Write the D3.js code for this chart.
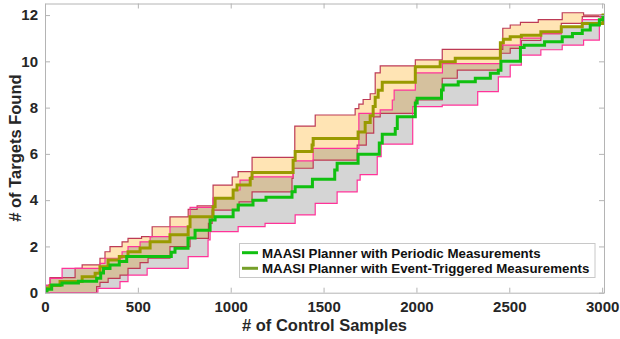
<!DOCTYPE html>
<html>
<head>
<meta charset="utf-8">
<script src="https://cdn.jsdelivr.net/npm/d3@7"></script>
<style>
body { margin: 0; background: #fff; }
svg { display: block; font-family: Arial, "Liberation Sans", Helvetica, sans-serif; }
</style>
</head>
<body>
<svg width="620" height="339"></svg>
<script>
var xTicks = [0, 500, 1000, 1500, 2000, 2500, 3000];
var yTicks = [0, 2, 4, 6, 8, 10, 12];
var seriesNames = ['MAASI Planner with Periodic Measurements', 'MAASI Planner with Event-Triggered Measurements'];

// [control samples, targets found] - step values, each holds until the next sample
var periodicMean = [[0, 0.05], [10, 0.15], [36, 0.33], [92, 0.42], [180, 0.5], [278, 0.62], [300, 0.85], [315, 1.05],
  [350, 1.2], [400, 1.35], [440, 1.56], [680, 1.75], [700, 1.92], [770, 2.36], [808, 2.7], [889, 3.14], [916, 3.28],
  [1013, 3.57], [1040, 3.79], [1120, 4.0], [1190, 4.13], [1330, 4.36], [1347, 4.58], [1440, 4.9], [1560, 5.3],
  [1573, 5.6], [1686, 5.98], [1800, 6.47], [1816, 6.85], [1886, 7.1], [1897, 7.6], [1994, 8.2], [2004, 8.4],
  [2135, 8.76], [2144, 8.98], [2225, 9.12], [2317, 9.27], [2398, 9.48], [2441, 9.62], [2455, 10.0], [2560, 10.6],
  [2580, 10.7], [2690, 10.85], [2785, 11.06], [2840, 11.2], [2893, 11.35], [2936, 11.57], [2985, 11.8], [3005, 11.95]];
var periodicHigh = [[0, 0.33], [27, 0.62], [92, 1.05], [296, 1.27], [323, 1.49], [415, 1.77], [447, 1.99], [512, 2.2],
  [566, 2.42], [673, 2.85], [781, 3.69], [905, 4.1], [1013, 4.44], [1050, 4.87], [1105, 5.01], [1336, 5.7],
  [1444, 6.24], [1690, 7.75], [1805, 7.9], [1870, 8.33], [1880, 8.76], [1994, 9.5], [2140, 9.9], [2455, 10.7],
  [2560, 11.0], [2670, 11.2], [2780, 11.5], [2893, 11.8], [2990, 12.0]];
var periodicLow = [[0, 0], [285, 0.19], [404, 0.48], [447, 0.76], [550, 1.05], [771, 1.56], [878, 2.28], [889, 2.64],
  [1040, 2.86], [1185, 3.0], [1347, 3.36], [1455, 3.86], [1573, 4.36], [1681, 4.87], [1697, 5.1], [1789, 5.88],
  [1810, 6.42], [1980, 8.04], [2139, 8.11], [2330, 8.69], [2441, 9.33], [2505, 9.84], [2565, 10.27], [2670, 10.5],
  [2785, 10.7], [2900, 10.92], [2985, 11.6], [3005, 12.0]];

var eventMean = [[0, 0.1], [10, 0.2], [27, 0.31], [81, 0.48], [200, 0.69], [270, 0.84], [296, 1.12], [340, 1.41],
  [400, 1.56], [447, 1.77], [512, 1.93], [566, 2.2], [673, 2.5], [771, 2.85], [781, 3.28], [905, 3.72], [916, 4.08],
  [1013, 4.44], [1034, 4.65], [1105, 4.94], [1115, 5.2], [1336, 5.73], [1347, 6.1], [1438, 6.38], [1444, 6.67],
  [1686, 6.95], [1724, 7.36], [1751, 7.65], [1767, 8.05], [1778, 8.45], [1794, 8.75], [1816, 9.1], [1994, 9.77],
  [2128, 9.98], [2209, 10.13], [2452, 10.8], [2468, 10.95], [2505, 11.06], [2565, 11.13], [2670, 11.28],
  [2780, 11.5], [2893, 11.64], [3005, 12.0]];
var eventHigh = [[0, 0.3], [27, 0.65], [162, 1.05], [200, 1.2], [296, 1.49], [323, 1.77], [350, 1.99], [415, 2.2],
  [447, 2.35], [520, 2.42], [577, 2.85], [673, 3.28], [771, 3.6], [819, 3.75], [905, 4.65], [1008, 5.0], [1040, 5.23],
  [1115, 5.85], [1345, 7.2], [1455, 7.68], [1670, 7.96], [1690, 8.15], [1713, 8.35], [1751, 8.6], [1778, 9.5],
  [1805, 9.8], [1994, 10.06], [2139, 10.52], [2465, 11.43], [2505, 11.57], [2560, 11.68], [2656, 11.8], [2785, 12.1],
  [2900, 12.0]];
var eventLow = [[0, 0], [278, 0.26], [296, 0.45], [340, 0.62], [404, 0.76], [447, 1.05], [512, 1.3], [555, 1.49],
  [673, 1.99], [781, 2.35], [880, 3.0], [900, 3.57], [1045, 3.93], [1115, 4.36], [1330, 4.94], [1336, 5.38],
  [1444, 5.73], [1681, 6.38], [1730, 6.9], [1770, 7.6], [1805, 7.75], [1994, 8.33], [2139, 9.27], [2220, 9.62],
  [2452, 10.35], [2505, 10.56], [2565, 10.9], [2670, 11.2], [2780, 11.64], [2893, 11.93], [3005, 12.0]];

var xMax = 3010, yMax = 12.5;

var svg = d3.select('svg');
var mLeft = 45, mRight = 604, mTop = 3.5, mBottom = 292.7;

var x = d3.scaleLinear().domain([0, xMax]).range([mLeft, mRight]);
var y = d3.scaleLinear().domain([0, yMax]).range([mBottom, mTop]);

function ext(s) {
  return s.concat([[xMax, s[s.length - 1][1]]]);
}
function stepAt(s, v) {
  var val = s[0][1];
  for (var i = 0; i < s.length; i++) {
    if (s[i][0] <= v) val = s[i][1];
  }
  return val;
}
function band(hi, lo) {
  var xs = Array.from(new Set(hi.map(d => d[0]).concat(lo.map(d => d[0]), [xMax]))).sort((a, b) => a - b);
  return xs.map(v => ({x: v, hi: stepAt(hi, v), lo: stepAt(lo, v)}));
}

svg.append('defs').append('clipPath').attr('id', 'plot')
  .append('rect').attr('x', mLeft).attr('y', mTop).attr('width', mRight - mLeft).attr('height', mBottom - mTop);

var area = d3.area().curve(d3.curveStepAfter)
  .x(d => x(d.x)).y0(d => y(d.lo)).y1(d => y(d.hi));
var line = d3.line().curve(d3.curveStepAfter)
  .x(d => x(d[0])).y(d => y(d[1]));

var plot = svg.append('g').attr('clip-path', 'url(#plot)');

plot.append('path').attr('d', area(band(eventHigh, eventLow)))
  .attr('fill', '#ffe4b4');
plot.append('path').attr('d', area(band(periodicHigh, periodicLow)))
  .attr('fill', 'rgb(100,100,100)').attr('fill-opacity', 0.27);

[[eventHigh, '#bd3a55'], [eventLow, '#bd3a55'], [periodicHigh, '#ff3399'], [periodicLow, '#ff3399']].forEach(function(p) {
  plot.append('path').attr('d', line(ext(p[0])))
    .attr('fill', 'none').attr('stroke', p[1]).attr('stroke-width', 1.2);
});

var greenCol = '#10c010', oliveCol = '#999a00';
plot.append('path').attr('d', line(ext(eventMean)))
  .attr('fill', 'none').attr('stroke', oliveCol).attr('stroke-width', 3);
plot.append('path').attr('d', line(ext(periodicMean)))
  .attr('fill', 'none').attr('stroke', greenCol).attr('stroke-width', 3);

// axes
var axisCol = '#b4b4b4', textCol = '#262626';
function styleAxis(g) {
  g.select('.domain').attr('stroke', axisCol);
  g.selectAll('.tick line').attr('stroke', axisCol);
  g.selectAll('.tick text').attr('fill', textCol).style('font-size', '15px').style('font-weight', 'bold');
}
svg.append('g').attr('transform', `translate(0,${mBottom})`)
  .call(d3.axisBottom(x).tickValues(xTicks).tickSize(-5).tickSizeOuter(0).tickPadding(9).tickFormat(d3.format('d')))
  .call(styleAxis);
svg.append('g').attr('transform', `translate(0,${mTop})`)
  .call(d3.axisTop(x).tickValues(xTicks).tickSize(-5).tickSizeOuter(0).tickFormat(''))
  .call(styleAxis);
svg.append('g').attr('transform', `translate(${mLeft},0)`)
  .call(d3.axisLeft(y).tickValues(yTicks).tickSize(-5).tickSizeOuter(0).tickPadding(7))
  .call(styleAxis);
svg.append('g').attr('transform', `translate(${mRight},0)`)
  .call(d3.axisRight(y).tickValues(yTicks).tickSize(-5).tickSizeOuter(0).tickFormat(''))
  .call(styleAxis);

svg.append('text').attr('x', (mLeft + mRight) / 2).attr('y', 331)
  .attr('text-anchor', 'middle').attr('fill', textCol)
  .style('font-size', '16.5px').style('font-weight', 'bold').text('# of Control Samples');
svg.append('text').attr('transform', `translate(21,${(mTop + mBottom) / 2}) rotate(-90)`)
  .attr('text-anchor', 'middle').attr('fill', textCol)
  .style('font-size', '16.5px').style('font-weight', 'bold').text('# of Targets Found');

// legend
var lg = svg.append('g');
lg.append('rect').attr('x', 239.5).attr('y', 243.5).attr('width', 355.5).attr('height', 34)
  .attr('fill', '#fff').attr('stroke', '#c8c8c8');
[greenCol, '#76a02a'].forEach(function(c, i) {
  var yy = 252.7 + i * 15.6;
  lg.append('line').attr('x1', 242).attr('x2', 258).attr('y1', yy).attr('y2', yy)
    .attr('stroke', c).attr('stroke-width', 3);
  lg.append('text').attr('x', 262).attr('y', yy + 4.8).attr('fill', '#111')
    .style('font-size', '13.3px').style('font-weight', 'bold').text(seriesNames[i]);
});
</script>
</body>
</html>
